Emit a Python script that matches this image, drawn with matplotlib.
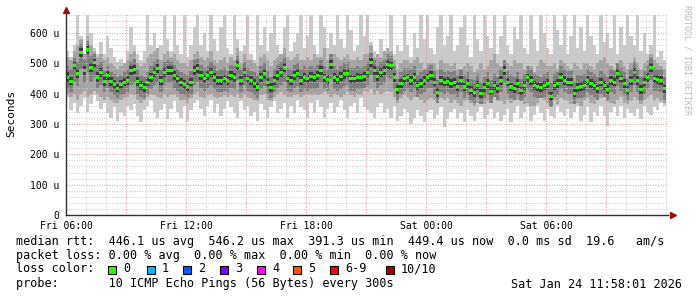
import numpy as np
import matplotlib
matplotlib.use("Agg")
import matplotlib.pyplot as plt
from matplotlib.patches import Rectangle

# smokeping style rtt graph, 10 min bins starting Fri 06:00, values in microseconds
step = 1.0 / 6.0

median = [
    453, 441, 492, 467, 536, 476, 545, 486, 502, 455,
    470, 440, 460, 440, 430, 418, 430, 438, 443, 476,
    480, 440, 427, 420, 438, 454, 471, 482, 443, 471,
    476, 476, 460, 449, 438, 430, 424, 438, 476, 482,
    460, 449, 460, 471, 454, 443, 443, 449, 443, 460,
    454, 492, 443, 471, 449, 443, 433, 422, 454, 465,
    438, 420, 443, 460, 471, 487, 449, 443, 460, 468,
    443, 454, 449, 456, 452, 460, 476, 452, 446, 496,
    454, 446, 456, 465, 468, 449, 449, 454, 452, 456,
    471, 503, 476, 456, 471, 476, 496, 492, 454, 413,
    434, 449, 452, 443, 454, 427, 434, 443, 452, 460,
    438, 405, 443, 438, 441, 434, 438, 424, 443, 422,
    433, 411, 405, 427, 400, 420, 433, 408, 427, 416,
    443, 476, 438, 422, 416, 434, 409, 427, 452, 443,
    427, 424, 420, 427, 434, 391, 427, 434, 454, 443,
    438, 438, 402, 420, 424, 427, 443, 434, 427, 416,
    438, 427, 413, 443, 438, 465, 449, 433, 411, 443,
    471, 443, 413, 438, 454, 487, 449, 446, 443, 416,
]

# outer smoke (fastest / slowest ping)
outer_hi = [
    540, 520, 560, 660, 590, 530, 660, 600, 550, 530,
    570, 530, 590, 550, 520, 505, 515, 500, 540, 620,
    560, 530, 510, 540, 660, 560, 600, 540, 560, 660,
    580, 540, 660, 560, 530, 660, 520, 560, 620, 660,
    560, 600, 540, 660, 580, 540, 620, 660, 550, 530,
    660, 580, 540, 560, 660, 530, 510, 660, 560, 620,
    540, 600, 660, 560, 520, 620, 660, 540, 570, 600,
    660, 550, 590, 660, 560, 530, 660, 620, 550, 600,
    560, 660, 580, 550, 660, 610, 540, 560, 660, 590,
    660, 570, 540, 530, 580, 540, 550, 660, 530, 560,
    540, 660, 560, 520, 600, 550, 660, 580, 660, 550,
    530, 620, 660, 560, 590, 660, 540, 560, 620, 660,
    560, 520, 660, 580, 540, 660, 590, 550, 660, 530,
    590, 660, 560, 530, 620, 580, 660, 550, 530, 660,
    580, 540, 660, 600, 550, 530, 660, 610, 560, 660,
    530, 590, 660, 550, 620, 540, 660, 590, 560, 530,
    660, 570, 600, 550, 660, 530, 620, 560, 660, 590,
    560, 660, 540, 600, 530, 560, 660, 520, 540, 510,
]
outer_lo = [
    390, 345, 370, 335, 360, 385, 340, 365, 395, 375,
    350, 370, 335, 320, 355, 310, 340, 325, 360, 345,
    365, 325, 305, 345, 360, 380, 340, 320, 345, 365,
    315, 350, 375, 340, 320, 360, 310, 345, 370, 380,
    350, 325, 360, 380, 335, 365, 325, 350, 375, 355,
    335, 320, 375, 345, 360, 325, 340, 310, 365, 345,
    320, 355, 375, 335, 350, 370, 320, 360, 335, 380,
    355, 345, 320, 370, 335, 380, 355, 320, 350, 370,
    335, 355, 380, 345, 320, 360, 370, 335, 385, 355,
    345, 335, 320, 355, 370, 335, 350, 320, 360, 310,
    325, 350, 340, 300, 320, 345, 325, 305, 340, 345,
    315, 330, 355, 290, 315, 340, 350, 320, 335, 305,
    345, 325, 310, 340, 355, 315, 330, 350, 320, 340,
    310, 330, 350, 305, 335, 360, 320, 340, 355, 310,
    330, 360, 335, 310, 350, 325, 320, 360, 340, 325,
    350, 320, 340, 360, 310, 330, 355, 305, 340, 325,
    360, 325, 295, 340, 355, 325, 360, 320, 350, 335,
    325, 350, 315, 360, 340, 330, 355, 345, 370, 360,
]

mid_hi = [
    520, 510, 540, 560, 580, 530, 590, 560, 540, 520,
    530, 510, 520, 500, 490, 480, 490, 500, 510, 530,
    540, 500, 490, 500, 520, 530, 540, 550, 510, 530,
    540, 520, 530, 510, 500, 500, 490, 510, 530, 540,
    520, 510, 520, 540, 510, 500, 510, 520, 500, 520,
    510, 550, 500, 530, 510, 510, 500, 490, 520, 530,
    510, 490, 510, 520, 530, 550, 520, 510, 520, 530,
    510, 510, 520, 510, 530, 520, 520, 550, 510, 500,
    530, 520, 510, 520, 530, 510, 510, 520, 510, 530,
    530, 560, 520, 530, 520, 540, 550, 540, 510, 480,
    500, 510, 510, 500, 510, 520, 500, 480, 500, 500,
    500, 480, 510, 500, 500, 490, 500, 480, 470, 490,
    500, 490, 470, 480, 500, 480, 490, 510, 530, 500,
    490, 480, 500, 490, 510, 500, 500, 480, 480, 490,
    470, 490, 510, 500, 490, 490, 500, 480, 510, 500,
    490, 480, 500, 490, 480, 500, 500, 490, 480, 500,
    510, 520, 500, 490, 480, 500, 510, 490, 480, 500,
    520, 500, 480, 500, 510, 530, 510, 500, 490, 480,
]
mid_lo = [
    400, 390, 400, 380, 400, 410, 390, 400, 410, 400,
    390, 380, 390, 380, 370, 370, 380, 385, 390, 400,
    395, 380, 370, 380, 390, 400, 395, 390, 385, 400,
    390, 395, 400, 390, 380, 380, 370, 385, 400, 405,
    390, 385, 395, 400, 390, 385, 390, 395, 390, 395,
    390, 400, 385, 400, 390, 385, 380, 375, 395, 400,
    380, 375, 390, 400, 405, 395, 390, 390, 395, 400,
    390, 395, 400, 395, 400, 395, 400, 405, 400, 390,
    400, 395, 390, 400, 405, 395, 390, 400, 395, 410,
    405, 415, 400, 410, 400, 405, 410, 405, 390, 370,
    385, 395, 390, 380, 390, 395, 380, 370, 380, 385,
    380, 370, 385, 380, 385, 370, 380, 370, 360, 375,
    380, 370, 360, 370, 380, 365, 375, 380, 390, 375,
    375, 365, 380, 370, 390, 380, 375, 365, 370, 360,
    360, 370, 385, 380, 370, 375, 380, 365, 385, 380,
    375, 365, 380, 370, 360, 380, 385, 370, 365, 380,
    385, 390, 375, 370, 365, 380, 390, 370, 365, 375,
    390, 380, 365, 380, 385, 395, 380, 385, 375, 370,
]

inner_hi = [
    490, 480, 520, 505, 565, 510, 575, 525, 530, 495,
    505, 475, 490, 470, 465, 455, 460, 470, 480, 505,
    515, 480, 460, 455, 470, 490, 505, 515, 480, 505,
    510, 505, 495, 480, 470, 465, 460, 475, 510, 515,
    495, 485, 490, 505, 490, 475, 480, 485, 475, 495,
    490, 525, 480, 505, 485, 475, 470, 460, 490, 500,
    475, 455, 480, 495, 505, 520, 485, 480, 495, 500,
    480, 490, 485, 490, 485, 495, 510, 490, 480, 530,
    490, 480, 490, 500, 505, 485, 485, 490, 485, 490,
    505, 535, 510, 490, 505, 510, 530, 525, 490, 450,
    470, 485, 485, 480, 490, 460, 470, 480, 485, 495,
    475, 445, 480, 470, 475, 470, 475, 460, 480, 460,
    470, 450, 445, 465, 440, 455, 470, 445, 465, 455,
    480, 510, 475, 460, 455, 470, 450, 465, 490, 480,
    465, 460, 455, 465, 470, 435, 465, 470, 490, 480,
    475, 475, 440, 460, 460, 465, 480, 470, 465, 455,
    475, 465, 455, 480, 475, 500, 485, 470, 450, 480,
    505, 480, 455, 475, 490, 520, 485, 480, 480, 455,
]
inner_lo = [
    415, 405, 440, 425, 480, 435, 470, 440, 455, 420,
    430, 405, 420, 405, 395, 385, 395, 400, 405, 430,
    435, 400, 390, 385, 400, 415, 430, 435, 405, 430,
    435, 435, 420, 410, 400, 395, 390, 400, 430, 440,
    420, 410, 420, 430, 415, 405, 405, 410, 405, 420,
    415, 445, 405, 430, 410, 405, 395, 385, 415, 425,
    400, 385, 405, 420, 430, 440, 410, 405, 420, 425,
    405, 415, 410, 415, 415, 420, 435, 415, 410, 450,
    415, 410, 415, 425, 430, 410, 410, 415, 415, 420,
    430, 460, 435, 420, 430, 435, 455, 450, 415, 380,
    400, 410, 415, 405, 415, 390, 400, 405, 415, 420,
    400, 370, 405, 400, 405, 400, 400, 390, 405, 385,
    395, 375, 370, 390, 365, 385, 395, 370, 390, 380,
    405, 435, 400, 385, 380, 395, 375, 390, 415, 405,
    390, 385, 385, 390, 395, 355, 390, 395, 415, 405,
    400, 400, 365, 385, 385, 390, 405, 395, 390, 380,
    400, 390, 375, 405, 400, 425, 410, 395, 375, 405,
    430, 405, 375, 400, 415, 445, 410, 410, 405, 380,
]

core_hi = [
    470, 455, 505, 480, 550, 490, 560, 500, 515, 470,
    485, 455, 475, 455, 445, 432, 445, 452, 458, 490,
    495, 455, 442, 435, 452, 468, 485, 497, 458, 486,
    490, 490, 475, 462, 452, 445, 438, 452, 490, 497,
    475, 463, 475, 485, 468, 457, 458, 463, 457, 475,
    468, 507, 458, 485, 463, 457, 448, 437, 468, 480,
    452, 435, 457, 475, 485, 502, 463, 458, 475, 482,
    457, 468, 463, 470, 466, 475, 490, 466, 460, 510,
    468, 460, 470, 480, 482, 463, 463, 468, 466, 470,
    485, 518, 490, 470, 485, 490, 510, 506, 468, 428,
    448, 463, 466, 457, 468, 442, 448, 457, 466, 474,
    452, 420, 457, 452, 455, 448, 452, 438, 457, 436,
    447, 425, 420, 441, 415, 434, 447, 422, 441, 430,
    457, 490, 452, 436, 430, 448, 423, 441, 466, 457,
    441, 438, 434, 441, 448, 406, 441, 448, 468, 457,
    452, 452, 417, 434, 438, 441, 457, 448, 441, 430,
    452, 441, 427, 457, 452, 480, 463, 447, 425, 457,
    485, 457, 427, 452, 468, 500, 463, 460, 457, 430,
]
core_lo = [
    438, 428, 478, 452, 520, 462, 530, 472, 488, 440,
    456, 425, 446, 426, 416, 404, 416, 424, 428, 462,
    466, 426, 412, 406, 424, 440, 456, 468, 428, 456,
    462, 462, 446, 435, 424, 416, 410, 424, 462, 468,
    446, 435, 446, 456, 440, 428, 428, 435, 428, 446,
    440, 478, 428, 456, 435, 428, 418, 408, 440, 450,
    424, 406, 428, 446, 456, 472, 435, 428, 446, 454,
    428, 440, 435, 442, 438, 446, 462, 438, 432, 482,
    440, 432, 442, 450, 454, 435, 435, 440, 438, 442,
    456, 488, 462, 442, 456, 462, 482, 478, 440, 398,
    420, 435, 438, 428, 440, 412, 420, 428, 438, 446,
    424, 390, 428, 424, 426, 420, 424, 410, 428, 408,
    418, 396, 390, 412, 385, 406, 418, 394, 412, 402,
    428, 462, 424, 408, 402, 420, 395, 412, 438, 428,
    412, 410, 406, 412, 420, 376, 412, 420, 440, 428,
    424, 424, 388, 406, 410, 412, 428, 420, 412, 402,
    424, 412, 398, 428, 424, 450, 435, 418, 396, 428,
    456, 428, 398, 424, 440, 472, 435, 432, 428, 402,
]

xtick_labels = ["Fri 06:00", "", "Fri 12:00", "", "Fri 18:00", "",
                "Sat 00:00", "", "Sat 06:00", ""]
loss_colors = ["#26ff00", "#00b8ff", "#0059ff", "#7e00ff",
               "#ff00ff", "#ff5500", "#ff0000", "#a10000"]
loss_names = ["0", "1", "2", "3", "4", "5", "6-9", "10/10"]

W, H = 697, 297
fig = plt.figure(figsize=(W / 100, H / 100), dpi=100)
fig.patch.set_facecolor("white")
ax = fig.add_axes([66 / W, 82 / H, 602 / W, 202 / H])

n = len(median)
t = np.arange(n + 1) * step

def band(lo, hi, color):
    lo = np.append(lo, lo[-1])
    hi = np.append(hi, hi[-1])
    ax.fill_between(t, lo, hi, step="post", color=color, lw=0, zorder=1)

band(outer_lo, outer_hi, "#cacaca")
band(mid_lo, mid_hi, "#a4a4a4")
band(inner_lo, inner_hi, "#7e7e7e")
band(core_lo, core_hi, "#3c3c3c")

med = np.array(median)
ax.bar(t[:-1], 10, bottom=med - 5, width=step, align="edge",
       color="#26ff00", lw=0, zorder=4)

ax.set_xlim(0, 30.1)
ax.set_ylim(0, 666)

dots = (0, (1, 1.6))
ax.set_yticks(np.arange(0, 700, 100))
ax.set_yticklabels(["0"] + ["%d u" % v for v in range(100, 700, 100)])
ax.set_yticks(np.arange(0, 666, 20), minor=True)
ax.set_xticks(np.arange(0, 30, 3))
ax.set_xticklabels(xtick_labels)
ax.set_xticks(np.arange(0, 30.1, 1), minor=True)
ax.grid(which="minor", color="#c8c8c8", lw=0.7, ls=dots, zorder=2)
ax.grid(which="major", color="#e49494", lw=0.7, ls=dots, zorder=2.5)
ax.set_axisbelow(False)
ax.tick_params(which="both", length=0)
ax.tick_params(axis="y", pad=5)
ax.tick_params(axis="x", pad=4)
for lab in ax.get_xticklabels() + ax.get_yticklabels():
    lab.set_family("DejaVu Sans Mono")
    lab.set_fontsize(7)

for s in ["top", "right"]:
    ax.spines[s].set_visible(False)
for s in ["left", "bottom"]:
    ax.spines[s].set_color("#303030")
    ax.spines[s].set_linewidth(1)
    ax.spines[s].set_zorder(5)

ax.plot([0], [1.015], marker="^", ms=4.5, color="#9a1010", transform=ax.transAxes, clip_on=False)
ax.plot([1.008], [0], marker=">", ms=4.5, color="#9a1010", transform=ax.transAxes, clip_on=False)

mono = "DejaVu Sans Mono"
fig.text(11 / W, 1 - 113 / H, "Seconds", rotation=90, family=mono, fontsize=8,
         ha="center", va="center")
fig.text(687 / W, 1 - 60 / H, "RRDTOOL / TOBI OETIKER", rotation=270, family=mono,
         fontsize=6, color="#bbbbbb", ha="center", va="center")

def row(y, s, x=16, ha="left"):
    fig.text(x / W, 1 - y / H, s, family=mono, fontsize=8.5, ha=ha, va="center")

row(241, "median rtt:  446.1 us avg  546.2 us max  391.3 us min  449.4 us now  0.0 ms sd  19.6   am/s")
row(255, "packet loss: 0.00 % avg  0.00 % max  0.00 % min  0.00 % now")
row(269, "loss color:")
row(284, "probe:       10 ICMP Echo Pings (56 Bytes) every 300s")
row(284, "Sat Jan 24 11:58:01 2026", x=682, ha="right")

box_x = [108, 147, 183, 220, 257, 293, 330, 386]
for bx, c, name in zip(box_x, loss_colors, loss_names):
    fig.add_artist(Rectangle((bx / W, 1 - 273.5 / H), 8 / W, 8 / H, facecolor=c,
                             edgecolor="black", lw=0.8, transform=fig.transFigure))
    row(269, name, x=bx + 15)

fig.savefig("out.png", dpi=100)
